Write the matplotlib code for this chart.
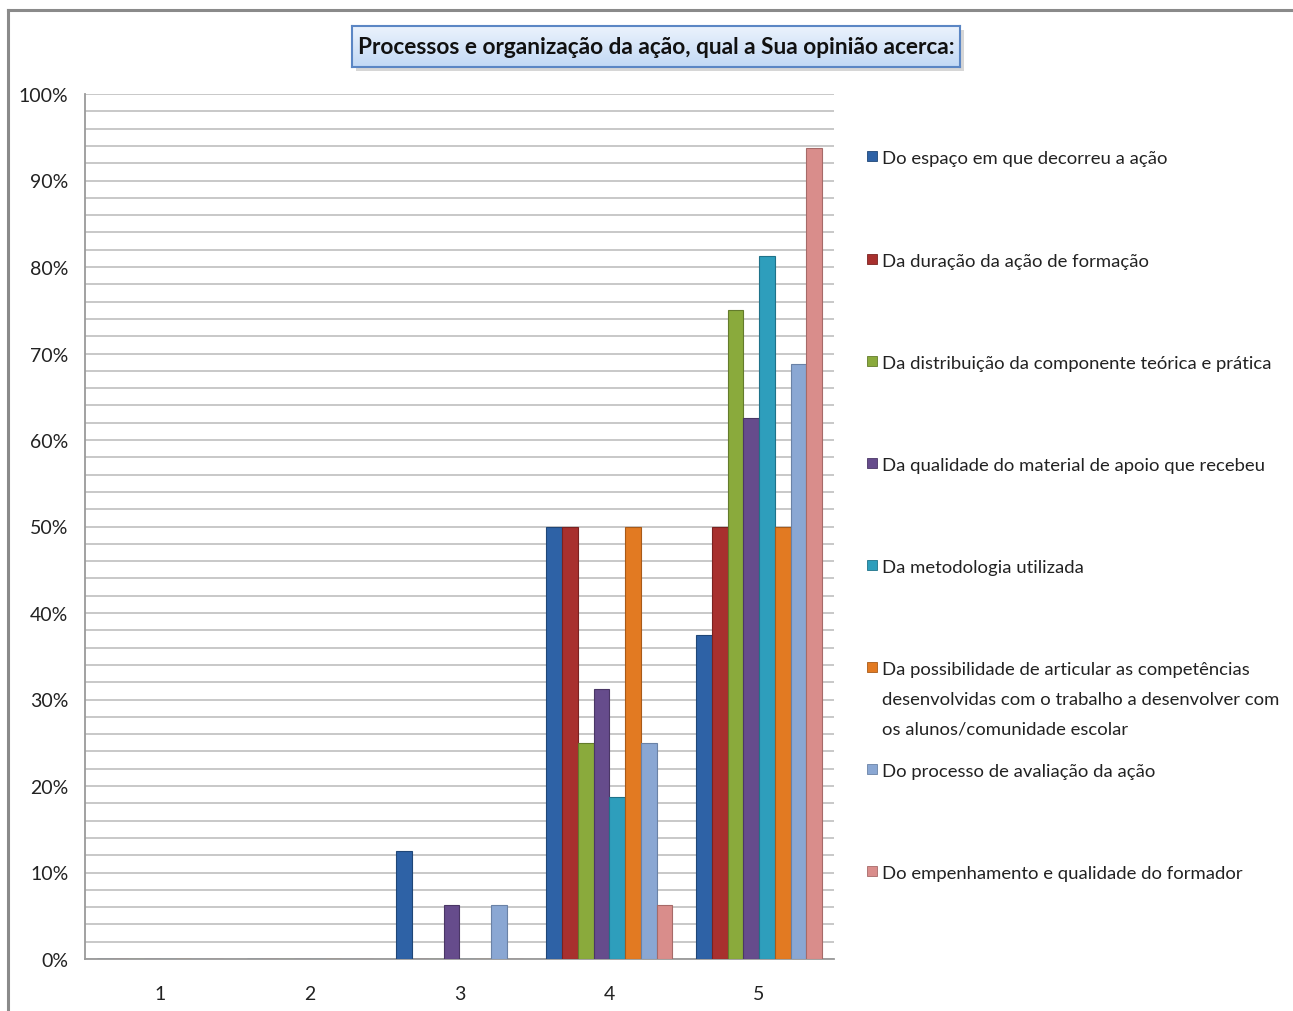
import matplotlib
matplotlib.use("Agg")
import matplotlib.pyplot as plt
import numpy as np
from matplotlib.patches import Rectangle

categories = ["1", "2", "3", "4", "5"]
series_labels = [
    "Do espaço em que decorreu a ação",
    "Da duração da ação de formação",
    "Da distribuição da componente teórica e prática",
    "Da qualidade do material de apoio que recebeu",
    "Da metodologia utilizada",
    "Da possibilidade de articular as competências\ndesenvolvidas com o trabalho a desenvolver com\nos alunos/comunidade escolar",
    "Do processo de avaliação da ação",
    "Do empenhamento e qualidade do formador",
]
espaco = [0, 0, 12.5, 50, 37.5]
duracao = [0, 0, 0, 50, 50]
distribuicao = [0, 0, 0, 25, 75]
material = [0, 0, 6.25, 31.25, 62.5]
metodologia = [0, 0, 0, 18.75, 81.25]
possibilidade = [0, 0, 0, 50, 50]
avaliacao = [0, 0, 6.25, 25, 68.75]
empenhamento = [0, 0, 0, 6.25, 93.75]
series_values = [espaco, duracao, distribuicao, material, metodologia,
                 possibilidade, avaliacao, empenhamento]
title = "Processos e organização da ação, qual a Sua opinião acerca:"

colors = ["#2E62A6", "#A8302E", "#8AAA3C", "#664C8C", "#2E9EBC",
          "#E27A22", "#8AA7D3", "#D98D8B"]
edges = ["#1F4677", "#7A2220", "#637B2B", "#4A3766", "#1F7289",
         "#A85A18", "#6A82A6", "#A66A68"]

plt.rcParams['font.family'] = ["Lato", "DejaVu Sans"]

W, H = 1293, 1012
fig = plt.figure(figsize=(W / 100, H / 100), dpi=100)

def fx(px):
    return px / W

def fy(py):
    return 1 - py / H

ax = fig.add_axes([fx(85), fy(960), fx(834) - fx(85), fy(95) - fy(960)])
n = len(series_values)
gap = 1.5
bw = 1.0 / (n + gap)
x = np.arange(len(categories))
for i, (vals, c, e) in enumerate(zip(series_values, colors, edges)):
    offs = (i - (n - 1) / 2) * bw
    ax.bar(x + offs, vals, width=bw, color=c, edgecolor=e, linewidth=0.8,
           zorder=3)

ax.set_xlim(-0.5, len(categories) - 0.5)
ax.set_ylim(0, 100)
ax.set_yticks(np.arange(0, 101, 10))
ax.set_yticklabels([f"{v}%" for v in range(0, 101, 10)], fontsize=14,
                   color="#222222")
ax.set_yticks(np.arange(0, 101, 2), minor=True)
ax.set_xticks(x)
ax.set_xticklabels(categories, fontsize=14, color="#222222")
ax.tick_params(axis="both", which="both", length=0)
ax.tick_params(axis="y", pad=12)
ax.tick_params(axis="x", pad=19)
ax.grid(axis="y", which="both", color="#C4C4C4", linewidth=1.3, zorder=0)
for s in ["top", "right"]:
    ax.spines[s].set_visible(False)
for s in ["left", "bottom"]:
    ax.spines[s].set_color("#9A9A9A")
    ax.spines[s].set_linewidth(1.3)

# legend (manual)
leg_y = [157, 260, 362, 464, 566, 668, 770, 872]
for lab, c, e, yy in zip(series_labels, colors, edges, leg_y):
    fig.patches.append(Rectangle((fx(867), fy(yy + 5)), fx(10), fy(0) - fy(10),
                                 transform=fig.transFigure, facecolor=c,
                                 edgecolor=e, linewidth=0.6))
    fig.text(fx(882), fy(yy - 6), lab, ha="left", va="top", fontsize=13.3,
             color="#222222", linespacing=2.05)

# title box with gradient and shadow
shadow = Rectangle((fx(356), fy(72)), fx(960) - fx(352), fy(27) - fy(68),
                   transform=fig.transFigure, facecolor="#BBBBBB",
                   edgecolor="none", alpha=0.6, zorder=-5)
fig.patches.append(shadow)
tax = fig.add_axes([fx(352), fy(68), fx(960) - fx(352), fy(27) - fy(68)])
tax.set_zorder(5)
grad = np.linspace(0, 1, 64).reshape(-1, 1)
top = np.array([0.92, 0.95, 0.99])
bot = np.array([0.76, 0.85, 0.96])
img = top[None, None, :] * (1 - grad[:, :, None]) + bot[None, None, :] * grad[:, :, None]
tax.imshow(img, aspect="auto", extent=[0, 1, 0, 1], origin="upper")
tax.set_xticks([])
tax.set_yticks([])
for s in tax.spines.values():
    s.set_color("#5B86C4")
    s.set_linewidth(1.5)
tax.text(0.5, 0.5, title, ha="center", va="center", fontsize=16.3,
         fontweight="bold", color="#111111", transform=tax.transAxes)

# outer border
fig.add_artist(plt.Line2D([fx(8), fx(8)], [fy(11), 0], transform=fig.transFigure,
                          color="#8A8A8A", linewidth=2.2))
fig.add_artist(plt.Line2D([fx(8), 1], [fy(11), fy(11)], transform=fig.transFigure,
                          color="#8A8A8A", linewidth=2.2))

fig.savefig("out.png", dpi=100, facecolor="white")
